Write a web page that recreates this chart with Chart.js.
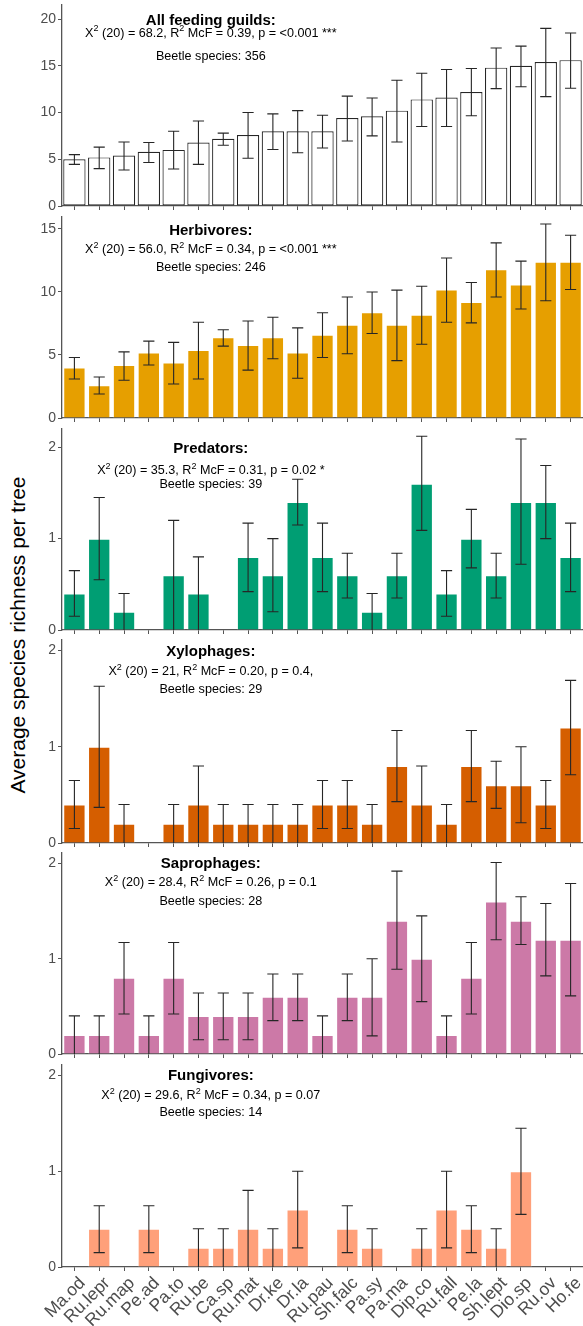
<!DOCTYPE html>
<html>
<head>
<meta charset="utf-8">
<script src="https://cdn.jsdelivr.net/npm/chart.js@4.4.1/dist/chart.umd.min.js"></script>
<style>
  body { margin: 0; background: #fff; }
  #wrap { position: relative; width: 583px; height: 1326px; overflow: hidden; background: #fff; }
  #wrap canvas { position: absolute; left: 0; }
  #ytitle {
    position: absolute; left: 18px; top: 635px;
    transform: translate(-50%, -50%) rotate(-90deg);
    font: 21px "Liberation Sans", Arial, sans-serif; color: #000; white-space: nowrap;
  }
</style>
</head>
<body>
<div id="wrap">
  <div id="ytitle">Average species richness per tree</div>
</div>
<script>
// tree species (x axis)
const trees = ['Ma.od', 'Ru.lepr', 'Ru.map', 'Pe.ad', 'Pa.to', 'Ru.be', 'Ca.sp', 'Ru.mat', 'Dr.ke', 'Dr.la', 'Ru.pau',
  'Sh.falc', 'Pa.sy', 'Pa.ma', 'Dip.co', 'Ru.fall', 'Pe.la', 'Sh.lept', 'Dio.sp', 'Ru.ov', 'Ho.fe'];

// y tick labels
const ticksAll = [0, 5, 10, 15, 20];
const ticksHerb = [0, 5, 10, 15];
const ticksGuild = [0, 1, 2];

// mean richness per tree and error bar ends, one set per feeding guild
const allMean = [5.0, 5.2, 5.4, 5.8, 6.0, 6.8, 7.2, 7.6, 8.0, 8.0, 8.0, 9.4, 9.6, 10.2, 11.4, 11.6, 12.2, 14.8, 15.0, 15.4, 15.6];
const allLow  = [4.45, 4.0, 3.85, 4.65, 3.95, 4.45, 6.5, 5.1, 6.05, 5.7, 6.2, 6.95, 7.5, 6.85, 8.5, 8.5, 9.65, 12.55, 12.75, 11.7, 12.6];
const allHigh = [5.5, 6.3, 6.85, 6.8, 8.0, 9.1, 7.8, 10.0, 9.85, 10.2, 9.7, 11.75, 11.55, 13.45, 14.2, 14.6, 14.7, 16.9, 17.1, 19.0, 18.5];

const herbMean = [4.0, 2.6, 4.2, 5.2, 4.4, 5.4, 6.4, 5.8, 6.4, 5.2, 6.6, 7.4, 8.4, 7.4, 8.2, 10.2, 9.2, 11.8, 10.6, 12.4, 12.4];
const herbLow  = [3.1, 1.9, 3.0, 4.2, 2.7, 3.1, 5.7, 3.8, 4.7, 3.15, 4.8, 5.1, 6.7, 4.55, 5.85, 7.6, 7.55, 9.6, 8.65, 9.3, 10.2];
const herbHigh = [4.8, 3.25, 5.25, 6.1, 6.0, 7.6, 7.0, 7.7, 8.0, 7.15, 8.35, 9.6, 10.0, 10.15, 10.45, 12.7, 10.75, 13.9, 12.45, 15.4, 14.5];

const predMean = [0.4, 1.0, 0.2, 0, 0.6, 0.4, 0, 0.8, 0.6, 1.4, 0.8, 0.6, 0.2, 0.6, 1.6, 0.4, 1.0, 0.6, 1.4, 1.4, 0.8];
const predLow  = [0.15, 0.55, 0, 0, 0, 0, 0, 0.42, 0.2, 1.15, 0.42, 0.35, 0, 0.35, 1.09, 0.15, 0.68, 0.35, 0.72, 1.0, 0.42];
const predHigh = [0.65, 1.45, 0.4, 0, 1.2, 0.8, 0, 1.17, 1.0, 1.65, 1.17, 0.84, 0.4, 0.84, 2.12, 0.65, 1.32, 0.84, 2.09, 1.8, 1.17];

const xyloMean = [0.4, 1.0, 0.2, 0, 0.2, 0.4, 0.2, 0.2, 0.2, 0.2, 0.4, 0.4, 0.2, 0.8, 0.4, 0.2, 0.8, 0.6, 0.6, 0.4, 1.2];
const xyloLow  = [0.15, 0.37, 0, 0, 0, 0, 0, 0, 0, 0, 0.15, 0.15, 0, 0.43, 0, 0, 0.43, 0.36, 0.21, 0.15, 0.71];
const xyloHigh = [0.65, 1.63, 0.4, 0, 0.4, 0.8, 0.4, 0.4, 0.4, 0.4, 0.65, 0.65, 0.4, 1.17, 0.8, 0.4, 1.17, 0.85, 1.0, 0.65, 1.69];

const saprMean = [0.2, 0.2, 0.8, 0.2, 0.8, 0.4, 0.4, 0.4, 0.6, 0.6, 0.2, 0.6, 0.6, 1.4, 1.0, 0.2, 0.8, 1.6, 1.4, 1.2, 1.2];
const saprLow  = [0, 0, 0.42, 0, 0.42, 0.15, 0.15, 0.15, 0.35, 0.35, 0, 0.35, 0.19, 0.89, 0.55, 0, 0.42, 1.2, 1.15, 0.82, 0.61];
const saprHigh = [0.4, 0.4, 1.17, 0.4, 1.17, 0.64, 0.64, 0.64, 0.84, 0.84, 0.4, 0.84, 1.0, 1.92, 1.45, 0.4, 1.17, 2.01, 1.65, 1.58, 1.79];

const fungMean = [0, 0.4, 0, 0.4, 0, 0.2, 0.2, 0.4, 0.2, 0.6, 0, 0.4, 0.2, 0, 0.2, 0.6, 0.4, 0.2, 1.0, 0, 0];
const fungLow  = [0, 0.15, 0, 0.15, 0, 0, 0, 0, 0, 0.2, 0, 0.15, 0, 0, 0, 0.2, 0.15, 0, 0.55, 0, 0];
const fungHigh = [0, 0.64, 0, 0.64, 0, 0.4, 0.4, 0.8, 0.4, 1.0, 0, 0.64, 0.4, 0, 0.4, 1.0, 0.64, 0.4, 1.45, 0, 0];

// panel headings and model statistics
const guildNames = ['All feeding guilds:', 'Herbivores:', 'Predators:', 'Xylophages:', 'Saprophages:', 'Fungivores:'];
const chiSq = ['68.2', '56.0', '35.3', '21', '28.4', '29.6'];
const r2McF = ['0.39', '0.34', '0.31', '0.20', '0.26', '0.34'];
const pText = ['<0.001 ***', '<0.001 ***', '0.02 *', '0.4,', '0.1', '0.07'];
const beetleSpecies = [356, 246, 39, 29, 28, 14];

const FONT = '"Liberation Sans", Arial, Helvetica, sans-serif';
const AXIS = '#555555';
const TICKTXT = '#4D4D4D';

// panel geometry (plot area top/bottom in page pixels, y range, label offsets)
const panels = [
  { mean: allMean,  low: allLow,  high: allHigh,  fill: '#FFFFFF', top: 5,    bottom: 206,  max: 21.5,  ticks: ticksAll,   text: [16, 28.5, 52] },
  { mean: herbMean, low: herbLow, high: herbHigh, fill: '#E69F00', top: 217,  bottom: 418,  max: 15.95, ticks: ticksHerb,  text: [14, 33, 51] },
  { mean: predMean, low: predLow, high: predHigh, fill: '#009E73', top: 429,  bottom: 630,  max: 2.2,   ticks: ticksGuild, text: [20, 42, 56] },
  { mean: xyloMean, low: xyloLow, high: xyloHigh, fill: '#D55E00', top: 640,  bottom: 843,  max: 2.11,  ticks: ticksGuild, text: [12, 32, 50] },
  { mean: saprMean, low: saprLow, high: saprHigh, fill: '#CC79A7', top: 853,  bottom: 1054, max: 2.11,  ticks: ticksGuild, text: [11, 30, 49] },
  { mean: fungMean, low: fungLow, high: fungHigh, fill: '#FFA07A', top: 1065, bottom: 1267, max: 2.11,  ticks: ticksGuild, text: [11, 31, 48] }
];

function drawRich(ctx, parts, cx, y, size) {
  const norm = size + 'px ' + FONT;
  const sup = Math.round(size * 0.72) + 'px ' + FONT;
  let w = 0;
  parts.forEach(p => { ctx.font = p[1] ? sup : norm; w += ctx.measureText(p[0]).width; });
  let x = cx - w / 2;
  ctx.textAlign = 'left';
  parts.forEach(p => {
    ctx.font = p[1] ? sup : norm;
    ctx.fillText(p[0], x, p[1] ? y - size * 0.38 : y);
    x += ctx.measureText(p[0]).width;
  });
}

function makePanel(i) {
  const p = panels[i];
  const last = i === panels.length - 1;
  const padTop = 5;
  const xHeight = last ? 1326 - p.bottom : 10;
  const canvas = document.createElement('canvas');
  canvas.width = 583;
  canvas.height = p.bottom - p.top + padTop + xHeight;
  canvas.style.top = (p.top - padTop) + 'px';
  document.getElementById('wrap').appendChild(canvas);

  // error bars drawn from the y scale
  const errorBars = {
    id: 'errorBars' + i,
    afterDatasetsDraw(chart) {
      const ctx = chart.ctx, xs = chart.scales.x, ys = chart.scales.y;
      const half = (xs.getPixelForValue(1) - xs.getPixelForValue(0)) * 0.225;
      ctx.save();
      ctx.strokeStyle = '#262626';
      ctx.lineWidth = 1.1;
      p.mean.forEach((m, k) => {
        if (!m) return;
        const px = xs.getPixelForValue(k);
        const t = ys.getPixelForValue(p.high[k]);
        const b = ys.getPixelForValue(p.low[k]);
        ctx.beginPath();
        ctx.moveTo(px, t); ctx.lineTo(px, b);
        ctx.moveTo(px - half, t); ctx.lineTo(px + half, t);
        if (p.low[k] > 0) { ctx.moveTo(px - half, b); ctx.lineTo(px + half, b); }
        ctx.stroke();
      });
      ctx.restore();
    }
  };

  // heading + stats text, centred between Ru.be and Ca.sp
  const heading = {
    id: 'heading' + i,
    afterDraw(chart) {
      const ctx = chart.ctx, xs = chart.scales.x;
      const cx = (xs.getPixelForValue(5) + xs.getPixelForValue(6)) / 2;
      const top = chart.chartArea.top;
      ctx.save();
      ctx.fillStyle = '#000';
      ctx.textBaseline = 'middle';
      ctx.textAlign = 'center';
      ctx.font = 'bold 15px ' + FONT;
      ctx.fillText(guildNames[i], cx, top + p.text[0]);
      drawRich(ctx, [['X', 0], ['2', 1], [' (20) = ' + chiSq[i] + ', R', 0], ['2', 1],
        [' McF = ' + r2McF[i] + ', p = ' + pText[i], 0]], cx, top + p.text[1], 12.6);
      ctx.textAlign = 'center';
      ctx.font = '12.6px ' + FONT;
      ctx.fillText('Beetle species: ' + beetleSpecies[i], cx, top + p.text[2]);
      ctx.restore();
    }
  };

  return new Chart(canvas, {
    type: 'bar',
    data: {
      labels: trees,
      datasets: [{
        data: p.mean,
        backgroundColor: p.fill,
        borderColor: i === 0 ? '#262626' : 'rgba(255,255,255,0.55)',
        borderWidth: i === 0 ? 1.2 : 1,
        borderSkipped: i === 0 ? false : 'start',
        barPercentage: 0.9,
        categoryPercentage: 1.0
      }]
    },
    options: {
      responsive: false,
      animation: false,
      events: [],
      layout: { padding: { top: padTop, left: 0, right: 0, bottom: 0 } },
      plugins: { legend: { display: false }, tooltip: { enabled: false } },
      scales: {
        x: {
          offset: true,
          grid: { display: true, drawOnChartArea: false, drawTicks: true, tickLength: 4, color: AXIS, offset: false },
          border: { display: true, color: AXIS, width: 1.3 },
          ticks: {
            display: last, autoSkip: false, maxRotation: 45, minRotation: 45,
            font: { size: 17.5, family: FONT }, color: TICKTXT, padding: 2, labelOffset: 8
          },
          afterFit: s => { s.height = xHeight; s.paddingLeft = 0; s.paddingRight = 0; }
        },
        y: {
          min: 0,
          max: p.max,
          ticks: { font: { size: 14, family: FONT }, color: TICKTXT, padding: 2 },
          afterBuildTicks: s => { s.ticks = p.ticks.map(v => ({ value: v })); },
          grid: { display: true, drawOnChartArea: false, drawTicks: true, tickLength: 4, color: AXIS },
          border: { display: true, color: AXIS, width: 1.3 },
          afterFit: s => { s.width = 62; s.paddingTop = 0; s.paddingBottom = 0; }
        }
      }
    },
    plugins: [errorBars, heading]
  });
}

panels.forEach((p, i) => makePanel(i));
</script>
</body>
</html>
